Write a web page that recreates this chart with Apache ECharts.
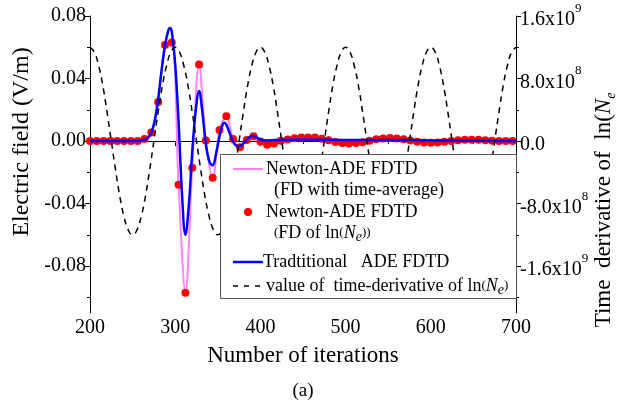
<!DOCTYPE html>
<html><head><meta charset="utf-8">
<script src="https://cdn.jsdelivr.net/npm/echarts@6/dist/echarts.min.js"></script>
<style>html,body{margin:0;padding:0;background:#fff}#c{width:644px;height:410px}</style>
</head><body><div id="c"></div>
<script>
const FONT = '"Liberation Serif","Times New Roman",serif';

// x axis
const xTickValues = [200, 300, 400, 500, 600, 700];
// left axis (electric field, V/m)
const leftTickValues = [-0.08, -0.04, 0, 0.04, 0.08];
const leftTickLabels = ['-0.08', '-0.04', '0.00', '0.04', '0.08'];
const leftMinorTicks = [-0.10, -0.06, -0.02, 0.02, 0.06];
// right axis (time derivative of ln(Ne), in units of 1e9)
const rightTickValues = [-1.6, -0.8, 0, 0.8, 1.6];
const rightTickMantissa = ['-1.6x10', '-8.0x10', '0.0', '8.0x10', '1.6x10'];
const rightTickExponent = ['9', '8', '', '8', '9'];
const rightMinorTicks = [-2.0, -1.2, -0.4, 0.4, 1.2];

// Newton-ADE FDTD (FD of ln(Ne)) points, also traced by the pink time-average curve
const redIter = [200,208,216,224,232,240,248,256,264,272,280,288,296,304,312,320,328,336,344,352,360,368,376,384,392,400,408,416,424,432,440,448,456,464,472,480,488,496,504,512,520,528,536,544,552,560,568,576,584,592,600,608,616,624,632,640,648,656,664,672,680,688,696];
const redField = [0,0,0,0,0,0,0,0,0.0013,0.0055,0.025,0.0615,0.063,-0.028,-0.097,-0.017,0.049,0.0003,-0.0235,0.007,0.0158,0.0013,-0.004,0.0006,0.003,-0.0003,-0.0024,-0.0015,0.0002,0.001,0.0018,0.0022,0.0023,0.0022,0.0015,0.0005,-0.0006,-0.0012,-0.0015,-0.0013,-0.0008,0.0002,0.0011,0.0017,0.0019,0.0017,0.0011,0.0003,-0.0005,-0.0009,-0.0011,-0.0009,-0.0005,0,0.0005,0.0008,0.0009,0.0008,0.0005,0.0002,0,0,0];

// Traditional ADE FDTD
const blueIter = [200,220,240,256,260,264,268,272,276,280,284,288,292,294,296,300,304,308,312,316,320,324,328,332,336,340,344,348,352,356,358,360,364,368,372,376,380,384,388,392,396,400,408,416,430,450,480,520,560,600,640,680,700];
const blueField = [0,0,0,0,0.0003,0.0008,0.002,0.0055,0.013,0.027,0.045,0.061,0.071,0.0723,0.070,0.049,0.012,-0.034,-0.060,-0.041,-0.007,0.019,0.032,0.018,-0.002,-0.013,-0.0155,-0.008,0.003,0.011,0.0117,0.0105,0.005,-0.0005,-0.003,-0.0032,-0.0015,0.0008,0.0028,0.0033,0.0022,0.001,0.0004,0.0006,0.0009,0.001,0.0008,0.0006,0.0006,0.0004,0.0002,0.0001,0];

// value of time-derivative of ln(Ne), units of 1e9
const dashIter = [200,205,210,215,220,225,230,235,240,245,250,255,260,265,270,275,280,285,290,295,300,305,310,315,320,325,330,335,340,345,350,355,360,365,370,375,380,385,390,395,400,405,410,415,420,425,430,435,440,445,450,455,460,465,470,475,480,485,490,495,500,505,510,515,520,525,530,535,540,545,550,555,560,565,570,575,580,585,590,595,600,605,610,615,620,625,630,635,640,645,650,655,660,665,670,675,680,685,690,695,700];
const dashDeriv = [
 1.20,1.14,0.97,0.71,0.37,0,-0.37,-0.71,-0.97,-1.14,-1.20,-1.14,-0.97,-0.71,-0.37,0,0.37,0.71,0.97,1.14,
 1.20,1.14,0.97,0.71,0.37,0,-0.37,-0.71,-0.97,-1.14,-1.20,-1.14,-0.97,-0.71,-0.37,0,0.37,0.71,0.97,1.14,
 1.20,1.14,0.97,0.71,0.37,0,-0.37,-0.71,-0.97,-1.14,-1.20,-1.14,-0.97,-0.71,-0.37,0,0.37,0.71,0.97,1.14,
 1.20,1.14,0.97,0.71,0.37,0,-0.37,-0.71,-0.97,-1.14,-1.20,-1.14,-0.97,-0.71,-0.37,0,0.37,0.71,0.97,1.14,
 1.20,1.14,0.97,0.71,0.37,0,-0.37,-0.71,-0.97,-1.14,-1.20,-1.14,-0.97,-0.71,-0.37,0,0.37,0.71,0.97,1.14,
 1.20];

const zip = (a, b) => a.map((v, i) => [v, b[i]]);

const chart = echarts.init(document.getElementById('c'), null, {renderer: 'canvas'});
const axisLine = {show: true, lineStyle: {color: '#000', width: 1}};
const lbl = {fontFamily: FONT, fontSize: 20, color: '#000'};

const idx = (arr, v) => arr.findIndex(t => Math.abs(t - v) < 1e-9);

const option = {
  animation: false,
  backgroundColor: '#fff',
  grid: {left: 90, right: 128, top: 16, bottom: 97, containLabel: false},
  xAxis: {
    type: 'value', min: 200, max: 700, interval: 100,
    axisLine: axisLine,
    axisTick: {show: true, length: 5, lineStyle: {color: '#000'}},
    minorTick: {show: true, splitNumber: 2, length: 3, lineStyle: {color: '#000'}},
    splitLine: {show: false}, minorSplitLine: {show: false},
    axisLabel: Object.assign({margin: 5}, lbl, {formatter: v => String(v)})
  },
  yAxis: [
    {
      type: 'value', position: 'left', min: -0.11, max: 0.08,
      axisLine: axisLine,
      axisTick: {show: true, length: 5, customValues: leftTickValues, lineStyle: {color: '#000'}},
      splitLine: {show: false},
      axisLabel: Object.assign({margin: 4, customValues: leftTickValues}, lbl,
        {formatter: v => leftTickLabels[idx(leftTickValues, v)] || ''})
    },
    {
      type: 'value', position: 'right', min: -2.2, max: 1.6,
      axisLine: axisLine,
      axisTick: {show: true, length: 5, customValues: rightTickValues, lineStyle: {color: '#000'}},
      splitLine: {show: false},
      axisLabel: {
        margin: 4, customValues: rightTickValues,
        formatter: v => {
          const i = idx(rightTickValues, v);
          if (i < 0) return '';
          return '{m|' + rightTickMantissa[i] + '}' + (rightTickExponent[i] ? '{s|' + rightTickExponent[i] + '}' : '');
        },
        rich: {
          m: {fontFamily: FONT, fontSize: 20, color: '#000', lineHeight: 28, verticalAlign: 'bottom'},
          s: {fontFamily: FONT, fontSize: 13, color: '#000', lineHeight: 14, verticalAlign: 'top'}
        }
      }
    },
    {
      type: 'value', position: 'left', min: -0.11, max: 0.08,
      axisLine: {show: false},
      axisTick: {show: true, length: 3, customValues: leftMinorTicks, lineStyle: {color: '#000'}},
      axisLabel: {show: false}, splitLine: {show: false}
    },
    {
      type: 'value', position: 'right', min: -2.2, max: 1.6,
      axisLine: {show: false},
      axisTick: {show: true, length: 3, customValues: rightMinorTicks, lineStyle: {color: '#000'}},
      axisLabel: {show: false}, splitLine: {show: false}
    }
  ],
  series: [
    {
      name: 'Newton-ADE FDTD (FD with time-average)', type: 'line', yAxisIndex: 0,
      data: zip(redIter, redField), smooth: 0.35, symbol: 'none', z: 2,
      lineStyle: {color: '#ff80ff', width: 2}
    },
    {
      name: 'Newton-ADE FDTD (FD of ln(Ne))', type: 'scatter', yAxisIndex: 0,
      data: zip(redIter, redField), symbol: 'circle', symbolSize: 8, z: 3,
      itemStyle: {color: '#ff0000', opacity: 1}
    },
    {
      name: 'Tradtitional ADE FDTD', type: 'line', yAxisIndex: 0,
      data: zip(blueIter, blueField), smooth: 0.4, symbol: 'none', z: 4,
      lineStyle: {color: '#0000ff', width: 2.5}
    },
    {
      name: 'value of time-derivative of ln(Ne)', type: 'line', yAxisIndex: 1,
      data: zip(dashIter, dashDeriv), smooth: 0.5, symbol: 'none', z: 5,
      lineStyle: {color: '#000', width: 1.5, type: [6, 5]}
    }
  ],
  graphic: [
    {type: 'text', x: 22, y: 142, rotation: Math.PI / 2, z: 100,
      style: {text: 'Electric field (V/m)', font: '24px ' + FONT, fill: '#000', textAlign: 'center', textVerticalAlign: 'middle', align: 'center', verticalAlign: 'middle'}},
    {type: 'text', x: 604, y: 210, rotation: Math.PI / 2, z: 100,
      style: {text: '{a|Time  derivative of  ln(}{n|N}{e|e}', textAlign: 'center', textVerticalAlign: 'middle', align: 'center', verticalAlign: 'middle',
        rich: {
          a: {fontFamily: FONT, fontSize: 23, fill: '#000', color: '#000', lineHeight: 28, verticalAlign: 'middle'},
          n: {fontFamily: FONT, fontSize: 23, fontStyle: 'italic', fill: '#000', color: '#000', lineHeight: 28, verticalAlign: 'middle'},
          e: {fontFamily: FONT, fontSize: 14, fontStyle: 'italic', fill: '#000', color: '#000', lineHeight: 14, verticalAlign: 'bottom'}
        }}},
    {type: 'text', x: 303, y: 356, z: 100,
      style: {text: 'Number of iterations', font: '23px ' + FONT, fill: '#000', textAlign: 'center', textVerticalAlign: 'middle', align: 'center', verticalAlign: 'middle'}},
    {type: 'text', x: 303, y: 391, z: 100,
      style: {text: '(a)', font: '19px ' + FONT, fill: '#000', textAlign: 'center', textVerticalAlign: 'middle', align: 'center', verticalAlign: 'middle'}},
    // legend box
    {type: 'rect', z: 100, shape: {x: 220.5, y: 154.5, width: 296, height: 144},
      style: {fill: '#fff', stroke: '#555', lineWidth: 1}},
    {type: 'line', z: 101, shape: {x1: 233, y1: 169, x2: 263, y2: 169}, style: {stroke: '#ff80ff', lineWidth: 2}},
    {type: 'text', x: 266, y: 169, z: 101,
      style: {text: 'Newton-ADE FDTD', font: '18px ' + FONT, fill: '#000', textVerticalAlign: 'middle', verticalAlign: 'middle'}},
    {type: 'text', x: 274, y: 190, z: 101,
      style: {text: '(FD with time-average)', font: '18px ' + FONT, fill: '#000', textVerticalAlign: 'middle', verticalAlign: 'middle'}},
    {type: 'circle', z: 101, shape: {cx: 248, cy: 212, r: 4}, style: {fill: '#ff0000'}},
    {type: 'text', x: 266, y: 212, z: 101,
      style: {text: 'Newton-ADE FDTD', font: '18px ' + FONT, fill: '#000', textVerticalAlign: 'middle', verticalAlign: 'middle'}},
    {type: 'text', x: 274, y: 233, z: 101,
      style: {text: '{p|(}{a|FD of ln}{p|(}{n|N}{e|e}{p|))}', textVerticalAlign: 'middle', verticalAlign: 'middle',
        rich: {
          a: {fontFamily: FONT, fontSize: 18, color: '#000', lineHeight: 22, verticalAlign: 'middle'},
          p: {fontFamily: FONT, fontSize: 13, color: '#000', lineHeight: 22, verticalAlign: 'middle'},
          n: {fontFamily: FONT, fontSize: 18, fontStyle: 'italic', color: '#000', lineHeight: 22, verticalAlign: 'middle'},
          e: {fontFamily: FONT, fontSize: 14, fontStyle: 'italic', color: '#000', lineHeight: 14, verticalAlign: 'bottom'}
        }}},
    {type: 'line', z: 101, shape: {x1: 233, y1: 262, x2: 263, y2: 262}, style: {stroke: '#0000ff', lineWidth: 2.5}},
    {type: 'text', x: 263, y: 262, z: 101,
      style: {text: 'Tradtitional   ADE FDTD', font: '18px ' + FONT, fill: '#000', textVerticalAlign: 'middle', verticalAlign: 'middle'}},
    {type: 'line', z: 101, shape: {x1: 233, y1: 286, x2: 262, y2: 286}, style: {stroke: '#000', lineWidth: 1.5, lineDash: [5, 6]}},
    {type: 'text', x: 266, y: 286, z: 101,
      style: {text: '{a|value of  time-derivative of ln}{p|(}{n|N}{e|e}{p|)}', textVerticalAlign: 'middle', verticalAlign: 'middle',
        rich: {
          a: {fontFamily: FONT, fontSize: 18, color: '#000', lineHeight: 22, verticalAlign: 'middle'},
          p: {fontFamily: FONT, fontSize: 13, color: '#000', lineHeight: 22, verticalAlign: 'middle'},
          n: {fontFamily: FONT, fontSize: 18, fontStyle: 'italic', color: '#000', lineHeight: 22, verticalAlign: 'middle'},
          e: {fontFamily: FONT, fontSize: 14, fontStyle: 'italic', color: '#000', lineHeight: 14, verticalAlign: 'bottom'}
        }}}
  ]
};
chart.setOption(option);
</script>
</body></html>
